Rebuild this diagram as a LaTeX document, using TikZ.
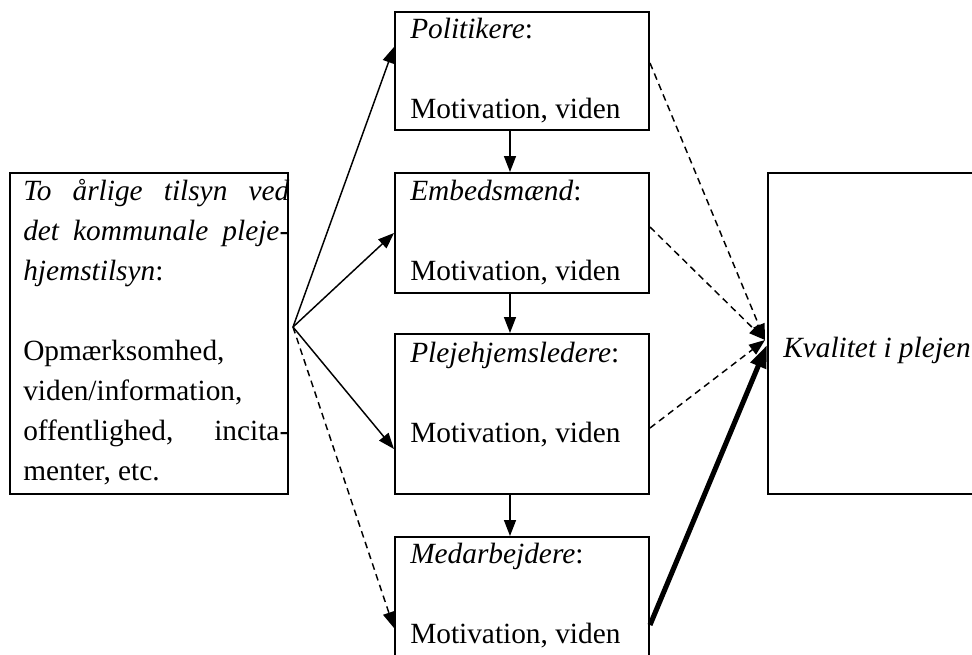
\documentclass[tikz,border=0pt]{standalone}
\usepackage{fontspec}
\setmainfont{Liberation Serif}
\usetikzlibrary{arrows.meta,fit,calc}
\tikzset{
  box/.style={draw, line width=1.5pt, inner sep=0pt},
  txt/.style={anchor=base west, inner sep=0pt, font=\fontsize{22}{30}\selectfont},
  arr/.style={-{Triangle[length=12pt,width=9pt]}, line width=1.1pt},
  darr/.style={arr, dash pattern=on 5pt off 3.5pt},
  tarr/.style={-{Triangle[length=17pt,width=12pt]}, line width=3.8pt}
}
\begin{document}
\begin{tikzpicture}[x=0.75pt,y=-0.75pt]
\useasboundingbox (0,0) rectangle (972,654);
\clip (0,0) rectangle (972,654);
% boxes
\node[box, fit={(10,173) (288,494)}] (left) {};
\node[box, fit={(395,12) (649,130)}] (pol) {};
\node[box, fit={(395,173) (649,293)}] (emb) {};
\node[box, fit={(395,334) (649,494)}] (plej) {};
\node[box, fit={(395,537) (649,697)}] (med) {};
\node[box, fit={(768,173) (1000,494)}] (kval) {};
% texts
\node[txt] (lefttxt) at (23,200) {\begin{tabular}[t]{@{}l@{}}
\makebox[199.5pt][s]{\itshape To årlige tilsyn ved}\\
\makebox[199.5pt][s]{\itshape det kommunale pleje-}\\
\textit{hjemstilsyn}:\\
\\
Opmærksomhed,\\
viden/information,\\
\makebox[199.5pt][s]{offentlighed, incita-}\\
menter, etc.
\end{tabular}};
\node[txt] (poltxt) at (410,38) {\begin{tabular}[t]{@{}l@{}}\textit{Politikere}:\\ \\ Motivation, viden\end{tabular}};
\node[txt] (embtxt) at (410,200) {\begin{tabular}[t]{@{}l@{}}\textit{Embedsmænd}:\\ \\ Motivation, viden\end{tabular}};
\node[txt] (plejtxt) at (410,362) {\begin{tabular}[t]{@{}l@{}}\textit{Plejehjemsledere}:\\ \\ Motivation, viden\end{tabular}};
\node[txt] (medtxt) at (410,563) {\begin{tabular}[t]{@{}l@{}}\textit{Medarbejdere}:\\ \\ Motivation, viden\end{tabular}};
\node[txt] (kvaltxt) at (783,357) {\textit{Kvalitet i plejen}};
% connectors
\coordinate (O) at (293,327);
\coordinate (K) at (765,340);
\draw[arr] (O) -- (pol.west |- 0,47);
\draw[arr] (O) -- (emb.west |- 0,233);
\draw[arr] (O) -- (plej.west |- 0,449);
\draw[darr] (O) -- (med.west |- 0,628);
\draw[arr] (pol.south -| 510,0) -- (emb.north -| 510,0);
\draw[arr] (emb.south -| 510,0) -- (plej.north -| 510,0);
\draw[arr] (plej.south -| 510,0) -- (med.north -| 510,0);
\draw[darr] (pol.east |- 0,63) -- (K);
\draw[darr] (emb.east |- 0,227) -- (K);
\draw[darr] (plej.east |- 0,428) -- (K);
\draw[tarr] (med.east |- 0,625) -- (kval.west |- 0,345);
\end{tikzpicture}
\end{document}
